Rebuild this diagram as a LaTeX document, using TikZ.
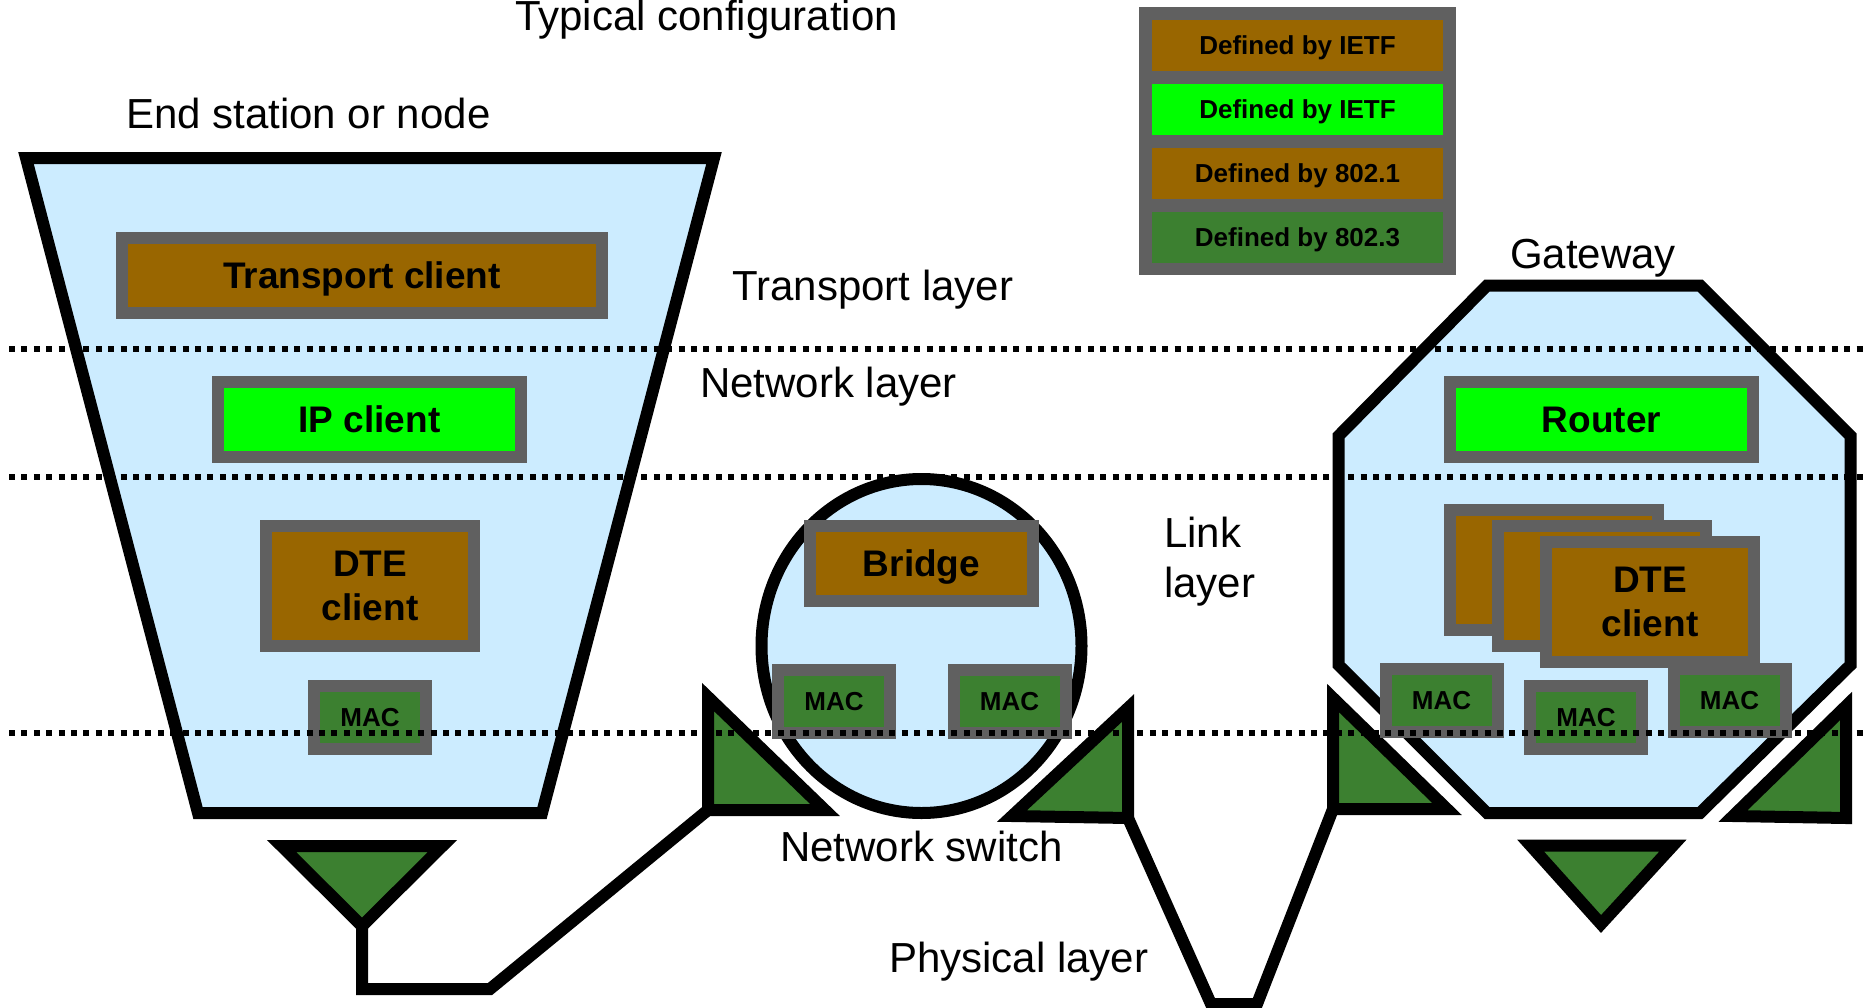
\documentclass[tikz,border=0pt]{standalone}
\usepackage{fontspec}
\setmainfont{Liberation Sans}
\definecolor{lblue}{RGB}{204,236,255}
\definecolor{cbrown}{RGB}{153,102,0}
\definecolor{cgreen}{RGB}{0,255,0}
\definecolor{dgreen}{RGB}{60,128,48}
\definecolor{bgray}{RGB}{96,96,96}
\tikzset{
  shell/.style={draw=black, line width=12pt, fill=lblue, line join=miter},
  port/.style={draw=black, line width=12pt, fill=dgreen, line join=miter},
  wire/.style={draw=black, line width=12pt, line join=miter},
  blk/.style={draw=bgray, line width=12pt, inner sep=0pt, text=black,
    font=\bfseries\fontsize{37}{44}\selectfont, align=center},
  oneline/.style={text height=26.5pt, text depth=0pt},
  macblk/.style={blk, fill=dgreen, font=\bfseries\fontsize{26}{30}\selectfont,
    minimum width=112pt, minimum height=63pt, text height=18.6pt, text depth=0pt},
  legbox/.style={inner sep=0pt, minimum width=291pt, minimum height=51pt,
    font=\bfseries\fontsize{26}{30}\selectfont, text height=18.6pt, text depth=0pt},
  lbl/.style={font=\fontsize{42}{50}\selectfont, inner sep=0pt},
  layerline/.style={draw=black, line width=6pt, dash pattern=on 6pt off 6.4pt}
}
\begin{document}
\begin{tikzpicture}[x=1pt,y=-1pt]
\useasboundingbox (0,0) rectangle (1866,1007);

% legend
\node[fill=bgray, minimum width=317pt, minimum height=268pt, inner sep=0pt] (legend) at (1297.5,141) {};
\node[legbox, fill=cbrown] (lg1) at (1297.5,45.5) {Defined by IETF};
\node[legbox, fill=cgreen] (lg2) at (1297.5,109) {Defined by IETF};
\node[legbox, fill=cbrown] (lg3) at (1297.5,173.5) {Defined by 802.1};
\node[legbox, fill=dgreen] (lg4) at (1297.5,237.5) {Defined by 802.3};

% device outlines
\draw[shell] (26,158) -- (714,158) -- (542,813) -- (198,813) -- cycle;
\draw[shell] (921.5,646) ellipse [x radius=160, y radius=167];
\draw[shell] (1487,285.5) -- (1700,285.5) -- (1850.5,436) -- (1850.5,665) -- (1700,813) -- (1487,813) -- (1338.5,665) -- (1338.5,436) -- cycle;

% blocks
\node[blk, oneline, fill=cbrown, minimum width=480pt, minimum height=75pt] (transport) at (362,275.5) {Transport client};
\node[blk, oneline, fill=cgreen, minimum width=303pt, minimum height=75pt] (ip) at (369.5,419.5) {IP client};
\node[blk, fill=cbrown, minimum width=208pt, minimum height=120pt] (dte) at (370,586) {DTE\\client};
\node[blk, oneline, fill=cbrown, minimum width=223pt, minimum height=75pt] (bridge) at (921.5,563.5) {Bridge};
\node[blk, oneline, fill=cgreen, minimum width=303pt, minimum height=75pt] (router) at (1601.5,419.5) {Router};
\node[blk, fill=cbrown, minimum width=208pt, minimum height=120pt] (dteA) at (1554,570) {};
\node[blk, fill=cbrown, minimum width=208pt, minimum height=120pt] (dteB) at (1602,586) {};
\node[blk, fill=cbrown, minimum width=208pt, minimum height=120pt] (dteC) at (1650,602) {DTE\\client};

% wires
\coordinate (esP) at (362,926);
\coordinate (swLP) at (708,810);
\coordinate (swRP) at (1128,818);
\coordinate (gwLP) at (1333,809);
\coordinate (w1) at (362,989);
\coordinate (w2) at (490,989);
\coordinate (w3) at (1211,1004);
\coordinate (w4) at (1257,1004);
\draw[wire] (esP) -- (w1) -- (w2) -- (swLP);
\draw[wire] (swRP) -- (w3) -- (w4) -- (gwLP);

% ports
\draw[port] (281.5,846) -- (442.5,846) -- (esP) -- cycle;
\draw[port] (708,697) -- (swLP) -- (825,810) -- cycle;
\draw[port] (1128,708) -- (swRP) -- (1012,816) -- cycle;
\draw[port] (1333,698) -- (gwLP) -- (1447,809) -- cycle;
\draw[port] (1846,706) -- (1846,818) -- (1733,816) -- cycle;
\draw[port] (1530.5,845.5) -- (1673,845.5) -- (1601,924) -- cycle;

% MAC blocks
\node[macblk] (mac0) at (370,717.5) {MAC};
\node[macblk] (macS1) at (834,701) {MAC};
\node[macblk] (macS2) at (1009.5,701) {MAC};
\node[macblk] (macG1) at (1441.5,700.5) {MAC};
\node[macblk] (macG2) at (1586,717) {MAC};
\node[macblk] (macG3) at (1729.5,700.5) {MAC};

% layer separators
\coordinate (a0) at (9,349);  \coordinate (a1) at (1866,349);
\coordinate (b0) at (9,477);  \coordinate (b1) at (1866,477);
\coordinate (c0) at (9,733);  \coordinate (c1) at (1866,733);
\draw[layerline] (a0) -- (a1);
\draw[layerline] (b0) -- (b1);
\draw[layerline] (c0) -- (c1);

% labels
\node[lbl, anchor=base west] (title) at (515,30) {Typical configuration};
\node[lbl, anchor=base west] (endst) at (126,128) {End station or node};
\node[lbl, anchor=base west] (tl) at (732,300) {Transport layer};
\node[lbl, anchor=base west] (nl) at (700,397) {Network layer};
\node[lbl, anchor=north west, align=left] (ll) at (1164,516.5) {Link\\layer};
\node[lbl, anchor=base west] (ns) at (780,861) {Network switch};
\node[lbl, anchor=base west] (pl) at (889,972) {Physical layer};
\node[lbl, anchor=base west] (gw) at (1510,268) {Gateway};
\end{tikzpicture}
\end{document}
